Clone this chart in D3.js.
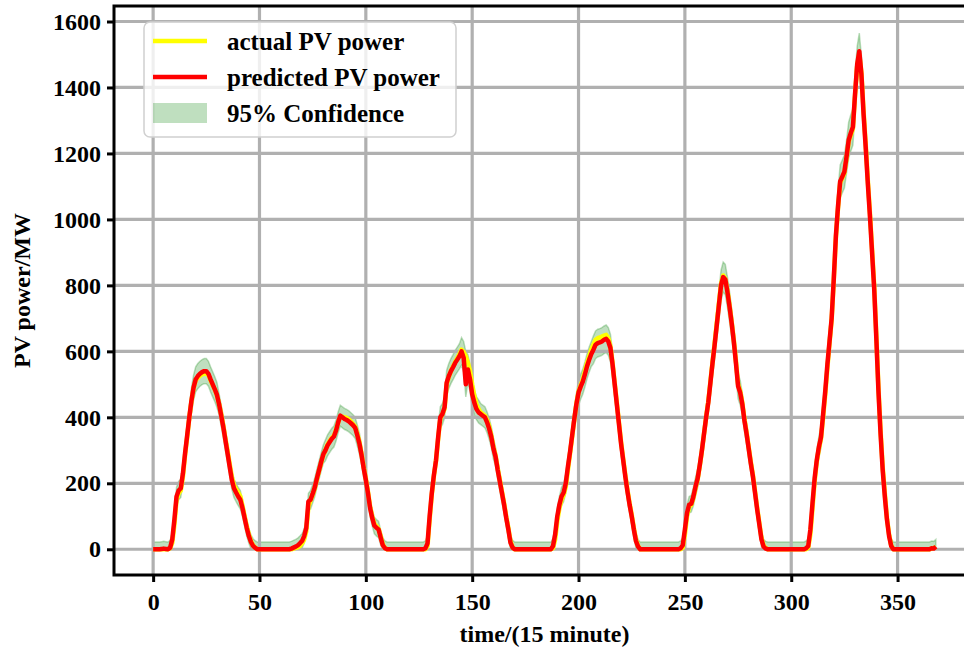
<!DOCTYPE html>
<html>
<head>
<meta charset="utf-8">
<script src="https://cdn.jsdelivr.net/npm/d3@7"></script>
<style>
  body { margin: 0; background: #fff; }
  text { font-family: "Liberation Serif", "Times New Roman", serif; font-weight: bold; }
</style>
</head>
<body>
<svg id="chart" width="964" height="654"></svg>
<script>
// PV power per 15-minute step (MW)
const predicted = [
    0,0,0,0,1,2,1,0,
    5,30,90,160,178,185,230,290,345,400,450,490,515,525,532,537,540,540,532,515,500,485,468,440,405,370,330,290,250,210,185,172,160,150,125,95,65,40,22,10,4,0,0,
    0,0,0,0,0,0,0,0,0,0,0,0,0,0,
    2,5,8,12,18,25,40,65,145,150,168,188,215,240,265,288,300,315,325,335,342,360,385,405,400,395,392,388,382,376,368,345,320,285,245,210,170,125,95,72,65,60,35,12,3,0,
    0,0,0,0,0,0,0,0,0,0,0,0,0,0,0,0,0,
    3,18,100,170,225,270,340,400,410,430,505,525,540,552,565,575,585,600,580,500,545,515,470,445,425,415,410,405,400,385,365,340,305,280,240,205,170,135,95,60,20,5,0,
    0,0,0,0,0,0,0,0,0,0,0,0,0,0,0,0,0,
    10,45,100,135,160,172,200,250,295,345,395,440,475,493,508,530,555,575,592,605,620,625,627,630,635,638,630,610,560,500,440,380,320,270,220,175,135,100,60,25,8,0,
    0,0,0,0,0,0,0,0,0,0,0,0,0,0,0,0,0,0,
    3,12,60,110,135,138,160,190,215,255,300,350,400,445,505,565,620,680,740,800,825,818,780,735,685,630,565,495,475,440,390,350,305,260,220,170,120,75,30,8,2,0,
    0,0,0,0,0,0,0,0,0,0,0,0,0,0,0,0,0,
    3,10,60,140,215,270,310,340,410,480,560,630,700,820,950,1040,1115,1130,1145,1190,1240,1262,1280,1380,1470,1510,1440,1320,1220,1110,1010,900,790,640,480,350,240,160,90,40,10,0,
    0,0,0,0,0,0,0,0,0,0,0,0,0,0,0,0,0,3,2,8
];

const actual = [
    0,0,0,0,0,0,0,0,
    3,20,75,150,170,178,220,285,340,398,448,488,512,520,526,530,532,533,528,512,498,484,466,442,410,375,335,298,258,220,195,182,172,160,132,100,70,45,25,12,5,0,0,
    0,0,0,0,0,0,0,0,0,0,0,0,0,0,
    0,2,4,6,10,18,30,55,130,148,165,185,212,238,262,285,300,318,328,338,345,362,385,402,402,400,398,394,388,380,372,350,325,290,250,215,175,130,100,78,70,62,40,15,4,0,
    0,0,0,0,0,0,0,0,0,0,0,0,0,0,0,0,0,
    0,10,90,165,222,268,335,395,410,425,500,522,540,555,568,580,592,605,598,585,565,540,500,465,440,425,415,410,405,392,372,345,310,285,245,210,175,140,100,65,25,6,0,
    0,0,0,0,0,0,0,0,0,0,0,0,0,0,0,0,0,
    3,30,85,125,150,165,190,240,290,340,392,440,478,497,515,540,565,585,605,620,635,640,642,645,648,650,640,615,565,505,445,385,325,275,225,180,140,105,65,30,10,0,
    0,0,0,0,0,0,0,0,0,0,0,0,0,0,0,0,0,0,
    0,5,45,100,128,135,155,185,212,252,298,350,400,448,508,568,625,685,745,805,830,820,785,740,690,635,572,500,480,445,395,355,310,265,225,175,125,80,35,12,4,0,
    0,0,0,0,0,0,0,0,0,0,0,0,0,0,0,0,0,
    0,5,45,125,205,265,305,335,400,470,550,625,695,815,945,1035,1110,1125,1140,1185,1235,1255,1275,1375,1465,1500,1445,1330,1230,1120,1020,910,800,650,490,360,250,170,95,45,12,0,
    0,0,0,0,0,0,0,0,0,0,0,0,0,0,0,0,0,2,4,6
];

// 95% confidence band edges
const ciUpper = [
    22,22,22,22,23,24,23,22,
    27,52,115,188,206,213,258,318,377,432,488,528,553,563,570,575,578,578,570,553,538,523,506,472,437,402,362,318,278,238,213,200,188,178,150,120,90,62,44,32,26,22,22,
    22,22,22,22,22,22,22,22,22,22,22,22,22,22,
    24,27,30,34,40,47,62,90,170,178,196,216,243,268,293,316,332,347,357,367,374,392,417,437,432,427,424,420,414,408,400,377,352,313,273,238,198,150,120,97,90,85,57,34,25,22,
    22,22,22,22,22,22,22,22,22,22,22,22,22,22,22,22,22,
    25,40,125,198,253,298,372,432,442,462,543,563,578,590,603,613,623,642,630,600,590,560,508,483,463,453,442,437,432,417,397,372,337,308,268,233,198,160,120,85,42,27,22,
    22,22,22,22,22,22,22,22,22,22,22,22,22,22,22,22,22,
    32,67,125,160,188,200,228,278,323,377,427,472,513,531,546,568,593,613,630,647,662,667,669,672,677,680,672,652,598,538,472,412,352,298,248,203,160,125,85,47,30,22,
    22,22,22,22,22,22,22,22,22,22,22,22,22,22,22,22,22,22,
    25,34,85,135,160,163,188,218,243,283,332,382,432,477,543,603,662,722,786,846,871,864,826,781,727,672,603,533,513,472,422,382,337,288,248,198,145,100,52,30,24,22,
    22,22,22,22,22,22,22,22,22,22,22,22,22,22,22,22,22,
    25,32,85,165,243,298,342,372,442,518,598,672,746,866,1000,1090,1165,1180,1195,1240,1295,1317,1335,1435,1525,1565,1495,1375,1275,1160,1060,946,836,682,518,382,268,188,115,62,32,22,
    22,22,22,22,22,22,22,22,22,22,22,22,22,22,22,22,22,25,24,30
];

const ciLower = [
    0,0,0,0,0,0,0,0,
    0,8,65,132,150,157,202,262,313,368,412,452,477,487,494,499,502,502,494,477,462,447,430,408,373,338,298,262,222,182,157,144,132,122,100,70,40,18,0,0,0,0,0,
    0,0,0,0,0,0,0,0,0,0,0,0,0,0,
    0,0,0,0,0,3,18,40,120,122,140,160,187,212,237,260,268,283,293,303,310,328,353,373,368,363,360,356,350,344,336,313,288,257,217,182,142,100,70,47,40,35,13,0,0,0,
    0,0,0,0,0,0,0,0,0,0,0,0,0,0,0,0,0,
    0,0,75,142,197,242,308,368,378,398,467,487,502,514,527,537,547,558,538,462,507,477,432,407,393,383,378,373,368,353,333,308,273,252,212,177,142,110,70,35,0,0,0,
    0,0,0,0,0,0,0,0,0,0,0,0,0,0,0,0,0,
    0,23,75,110,132,144,172,222,267,313,363,408,437,455,470,492,517,537,554,563,578,583,585,588,593,596,588,568,522,462,408,348,288,242,192,147,110,75,35,3,0,0,
    0,0,0,0,0,0,0,0,0,0,0,0,0,0,0,0,0,0,
    0,0,35,85,110,113,132,162,187,227,268,318,368,413,467,527,578,638,694,754,779,772,734,689,643,588,527,457,437,408,358,318,273,232,192,142,95,50,8,0,0,0,
    0,0,0,0,0,0,0,0,0,0,0,0,0,0,0,0,0,
    0,0,35,115,187,242,278,308,378,442,522,588,654,774,900,990,1065,1080,1095,1140,1185,1207,1225,1325,1415,1455,1385,1265,1165,1060,960,854,744,598,442,318,212,132,65,18,0,0,
    0,0,0,0,0,0,0,0,0,0,0,0,0,0,0,0,0,0,0,0
];

const xTicks = [0, 50, 100, 150, 200, 250, 300, 350];
const yTicks = [0, 200, 400, 600, 800, 1000, 1200, 1400, 1600];
const legendItems = ["actual PV power", "predicted PV power", "95% Confidence"];

const data = predicted.map((p, i) => ({
    t: i, pred: p, act: actual[i], lo: ciLower[i], hi: ciUpper[i]
}));

const svg = d3.select("#chart");
const plot = {left: 114, right: 975, top: 6, bottom: 575};

const x = d3.scaleLinear()
            .domain([-18.4, 386.4])
            .range([plot.left, plot.right]);

const y = d3.scaleLinear()
            .domain([-78, 1647])
            .range([plot.bottom, plot.top]);

svg.append("defs").append("clipPath").attr("id", "clip")
   .append("rect")
      .attr("x", plot.left).attr("y", plot.top)
      .attr("width", plot.right - plot.left)
      .attr("height", plot.bottom - plot.top);

const inner = svg.append("g").attr("clip-path", "url(#clip)");

// confidence band
const band = d3.area()
               .x(d => x(d.t))
               .y0(d => y(d.lo))
               .y1(d => y(d.hi));

inner.append("path")
     .datum(data)
        .attr("fill", "rgba(0,128,0,0.25)")
        .attr("stroke", "rgba(0,128,0,0.25)")
        .attr("stroke-width", 1.5)
        .attr("d", band);

// grid
inner.append("g").selectAll("line")
     .data(xTicks).join("line")
        .attr("x1", d => x(d)).attr("x2", d => x(d))
        .attr("y1", plot.top).attr("y2", plot.bottom)
        .attr("stroke", "#b0b0b0").attr("stroke-width", 3.2);

inner.append("g").selectAll("line")
     .data(yTicks).join("line")
        .attr("x1", plot.left).attr("x2", plot.right)
        .attr("y1", d => y(d)).attr("y2", d => y(d))
        .attr("stroke", "#b0b0b0").attr("stroke-width", 3.2);

const actualLine = d3.line().x(d => x(d.t)).y(d => y(d.act));
const predLine = d3.line().x(d => x(d.t)).y(d => y(d.pred));

inner.append("path")
     .datum(data)
        .attr("fill", "none")
        .attr("stroke", "#ffff00")
        .attr("stroke-width", 4.5)
        .attr("stroke-linejoin", "round")
        .attr("d", actualLine);

inner.append("path")
     .datum(data)
        .attr("fill", "none")
        .attr("stroke", "#ff0000")
        .attr("stroke-width", 4.5)
        .attr("stroke-linejoin", "round")
        .attr("d", predLine);

// axes
const xAxis = svg.append("g")
                 .attr("transform", `translate(0,${plot.bottom})`)
                 .call(d3.axisBottom(x).tickValues(xTicks).tickSize(7).tickPadding(6).tickSizeOuter(0));

const yAxis = svg.append("g")
                 .attr("transform", `translate(${plot.left},0)`)
                 .call(d3.axisLeft(y).tickValues(yTicks).tickFormat(d3.format("d"))
                          .tickSize(7).tickPadding(6).tickSizeOuter(0));

[xAxis, yAxis].forEach(a => {
    a.select(".domain").remove();
    a.selectAll(".tick line").attr("stroke", "#000").attr("stroke-width", 3);
    a.selectAll(".tick text")
     .attr("fill", "#000")
     .style("font-size", "24px");
});
xAxis.selectAll(".tick text").attr("dy", "0.9em");

// spines
svg.append("rect")
   .attr("x", plot.left).attr("y", plot.top)
   .attr("width", plot.right - plot.left)
   .attr("height", plot.bottom - plot.top)
   .attr("fill", "none")
   .attr("stroke", "#000")
   .attr("stroke-width", 3);

// axis labels
svg.append("text")
   .attr("x", (plot.left + plot.right) / 2)
   .attr("y", 642)
   .attr("text-anchor", "middle")
   .style("font-size", "24px")
   .text("time/(15 minute)");

svg.append("text")
   .attr("transform", `translate(30,${(plot.top + plot.bottom) / 2}) rotate(-90)`)
   .attr("text-anchor", "middle")
   .style("font-size", "24px")
   .text("PV power/MW");

// legend
const legend = svg.append("g").attr("transform", "translate(144,22)");

legend.append("rect")
      .attr("width", 312).attr("height", 115)
      .attr("rx", 6)
      .attr("fill", "rgba(255,255,255,0.8)")
      .attr("stroke", "#d0d0d0")
      .attr("stroke-width", 1.5);

const rows = legend.selectAll("g.item")
                   .data(legendItems).join("g")
                   .attr("class", "item")
                   .attr("transform", (d, i) => `translate(0,${19 + i * 36})`);

rows.filter((d, i) => i < 2).append("line")
    .attr("x1", 9).attr("x2", 63)
    .attr("stroke", (d, i) => i === 0 ? "#ffff00" : "#ff0000")
    .attr("stroke-width", 4.5);

rows.filter((d, i) => i === 2).append("rect")
    .attr("x", 9).attr("y", -10).attr("width", 54).attr("height", 20)
    .attr("fill", "rgba(0,128,0,0.25)");

rows.append("text")
    .attr("x", 83)
    .attr("dy", "0.35em")
    .style("font-size", "25px")
    .text(d => d);
</script>
</body>
</html>
